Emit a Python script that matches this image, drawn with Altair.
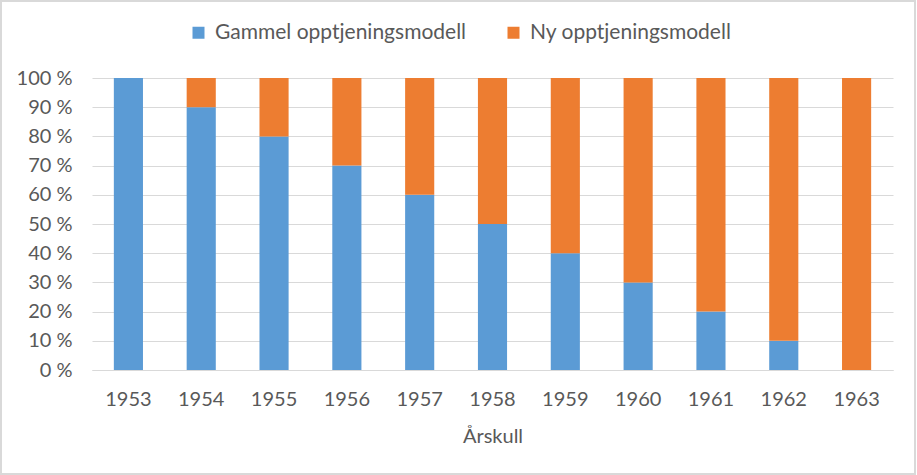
import altair as alt
import pandas as pd

years = ["1953", "1954", "1955", "1956", "1957", "1958", "1959", "1960", "1961", "1962", "1963"]
gammel = [100, 90, 80, 70, 60, 50, 40, 30, 20, 10, 0]
ny = [0, 10, 20, 30, 40, 50, 60, 70, 80, 90, 100]
series = ["Gammel opptjeningsmodell", "Ny opptjeningsmodell"]
colors = ["#5B9BD5", "#ED7D31"]

rows = []
for y, g, n in zip(years, gammel, ny):
    rows.append({"year": y, "series": series[0], "value": g / 100, "ord": 0})
    rows.append({"year": y, "series": series[1], "value": n / 100, "ord": 1})
df = pd.DataFrame(rows)

FONT = "Lato"
TXT = "#595959"
FS = 20

bars = alt.Chart(df).mark_bar().encode(
    x=alt.X("year:N", title="Årskull",
            scale=alt.Scale(paddingInner=0.6, paddingOuter=0.3),
            axis=alt.Axis(labelAngle=0, ticks=False, domain=True, domainColor="#D9D9D9",
                          labelPadding=19, titlePadding=17, labelFontSize=FS, titleFontSize=FS,
                          titleFontWeight="normal")),
    y=alt.Y("value:Q", title=None, stack="zero",
            scale=alt.Scale(domain=[0, 1], nice=False),
            axis=alt.Axis(format=".0%", values=[i / 10 for i in range(11)], ticks=False,
                          domain=False, gridColor="#D9D9D9", labelPadding=20,
                          labelExpr="replace(datum.label, '%', ' %')", labelFontSize=FS)),
    color=alt.Color("series:N", scale=alt.Scale(domain=series, range=colors),
                    legend=alt.Legend(title=None, orient="none", direction="horizontal",
                                      legendX=96, legendY=-56, symbolType="square",
                                      symbolSize=144, symbolStrokeWidth=0, labelFontSize=21,
                                      labelLimit=0, columnPadding=36, labelOffset=6)),
    order=alt.Order("ord:Q", sort="ascending"),
)

border = alt.Chart(alt.Data(values=[{"a": 1}])).mark_rect(
    fill=None, stroke="#D9D9D9", strokeWidth=2
).encode(x=alt.value(-91), x2=alt.value(823), y=alt.value(-77), y2=alt.value(104 + 292))

chart = alt.layer(border, bars).properties(
    width=801, height=292,
    autosize=alt.AutoSizeParams(type="none"),
    padding={"left": 92, "top": 78, "right": 24, "bottom": 105},
).configure(font=FONT).configure_view(stroke=None).configure_axis(
    labelColor=TXT, titleColor=TXT, labelFont=FONT, titleFont=FONT
).configure_legend(labelColor=TXT, labelFont=FONT)

chart.save("out.html", embed_options={"renderer": "svg", "actions": False})
